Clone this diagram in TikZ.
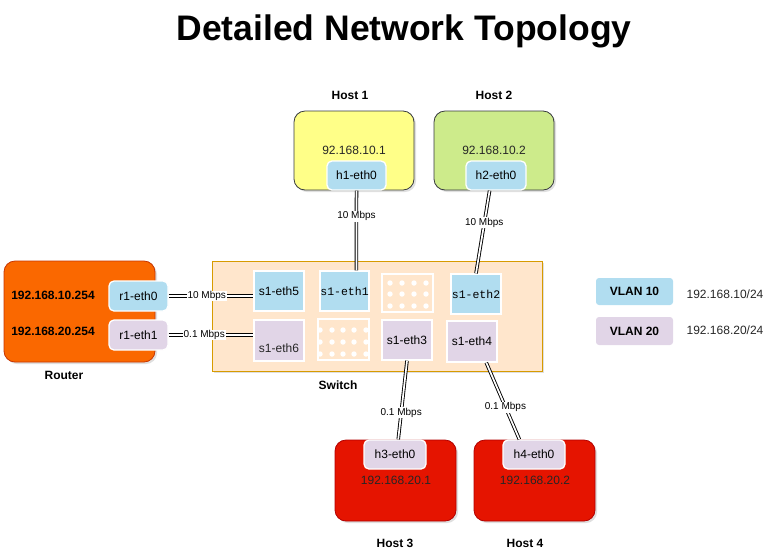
\documentclass[tikz,border=0pt]{standalone}
\usepackage{fontspec}
\setmainfont{Liberation Sans}
\newfontfamily\monofont{Liberation Mono}
\usetikzlibrary{positioning, shadows}
\definecolor{vlanblue}{HTML}{B1DDF0}
\definecolor{vlanpurple}{HTML}{E1D5E7}
\definecolor{routerorange}{HTML}{FA6800}
\definecolor{routerline}{HTML}{C73500}
\definecolor{hostred}{HTML}{E51400}
\definecolor{hostredline}{HTML}{B20000}
\definecolor{hostyellow}{HTML}{FFFF88}
\definecolor{hostgreen}{HTML}{CDEB8B}
\definecolor{hostline}{HTML}{36393D}
\definecolor{switchfill}{HTML}{FFE6CC}
\definecolor{switchline}{HTML}{D79B00}
\tikzset{
  c/.style={every coordinate/.try},
  shade box/.style={drop shadow={opacity=0.25, shadow xshift=2pt, shadow yshift=-2pt}},
  device/.style={draw=hostline, line width=0.8pt, rounded corners=11pt, shade box},
  iface/.style={draw=white, line width=1.3pt, inner sep=0pt, font=\fontsize{12}{14}\selectfont},
  vlan10/.style={iface, fill=vlanblue},
  vlan20/.style={iface, fill=vlanpurple},
  link/.style={draw=black, double, double distance=1.7pt, line width=0.9pt},
  rate/.style={fill=white, inner sep=0.8pt, font=\fontsize{10}{12}\selectfont},
  caption/.style={font=\bfseries\fontsize{12}{14}\selectfont},
  txt/.style={font=\fontsize{12}{14}\selectfont, text=black!85}}

\begin{document}
\begin{tikzpicture}[x=1pt,y=-1pt]
  \useasboundingbox (0,0) rectangle (775,558);
  \node (title) at (404,31) {\bfseries\fontsize{35.5}{40}\selectfont Detailed Network Topology};

  % router
  \node[device, draw=routerline, fill=routerorange, minimum width=151pt, minimum height=101pt] (router) at (79.5,311.5) {};
      \node[caption] (rip1) at (53,295) {192.168.10.254};
      \node[caption] (rip2) at (53,331) {192.168.20.254};
  \node[vlan10, rounded corners=5pt, minimum width=59pt, minimum height=30pt] (r0) at (138.5,296) {r1-eth0};
  \node[vlan20, rounded corners=5pt, minimum width=59pt, minimum height=30pt] (r1) at (138.5,335) {r1-eth1};
         \node[caption] (routerlbl) at (64,375) {Router};

  % switch
  \node[draw=switchline, line width=0.8pt, fill=switchfill, shade box, minimum width=330pt, minimum height=110pt] (switch) at (377,316) {};
       \node[caption] (switchlbl) at (338,385) {Switch};
  \node[vlan10, minimum width=50pt, minimum height=40pt] (s5) at (279,291) {s1-eth5};
  \node[vlan10, minimum width=49pt, minimum height=40pt, font=\monofont\fontsize{11.5}{13}\selectfont] (s1) at (344.5,291) {s1-eth1};
  \node[iface, fill=switchfill, minimum width=51pt, minimum height=38pt] (dots1) at (407.5,293) {};
  \node[vlan10, minimum width=50pt, minimum height=40pt, font=\monofont\fontsize{11.5}{13}\selectfont] (s2) at (476,294) {s1-eth2};
  \node[vlan20, minimum width=50pt, minimum height=41pt] (s6) at (279,340.5) {};
     \node[txt] (s6t) at (279,348) {s1-eth6};
  \node[iface, fill=switchfill, minimum width=51pt, minimum height=41pt] (dots2) at (343.5,339.5) {};
  \node[vlan20, minimum width=50pt, minimum height=40pt] (s3) at (407,340) {s1-eth3};
  \node[vlan20, minimum width=50pt, minimum height=41pt] (s4) at (472,341.5) {s1-eth4};
  \foreach \x in {390,402,414,426}
    \foreach \y in {283,294,306}
      \fill[white] (\x,\y) circle (2.7);
  \begin{scope}
    \clip (dots2.north west) rectangle (dots2.south east);
    \foreach \x in {320,332,343,354,366}
      \foreach \y in {330,342,354}
        \fill[white] (\x,\y) circle (2.7);
  \end{scope}

  % hosts
  \node[device, fill=hostyellow, minimum width=120pt, minimum height=79pt] (host1) at (354,150.5) {};
  \node[device, fill=hostgreen, minimum width=120pt, minimum height=79pt] (host2) at (494,150.5) {};
  \node[device, draw=hostredline, fill=hostred, minimum width=121pt, minimum height=81pt] (host3) at (395.5,480.5) {};
  \node[device, draw=hostredline, fill=hostred, minimum width=121pt, minimum height=81pt] (host4) at (534.5,480.5) {};
     \node[caption] (host1lbl) at (350,95) {Host 1};
     \node[caption] (host2lbl) at (494,95) {Host 2};
     \node[caption] (host3lbl) at (395,543) {Host 3};
     \node[caption] (host4lbl) at (525,543) {Host 4};
  \node[txt] (h1ip) at (354,150) {92.168.10.1};
  \node[txt] (h2ip) at (494,150) {92.168.10.2};
  \node[txt] (h3ip) at (396,480) {192.168.20.1};
  \node[txt] (h4ip) at (535,480) {192.168.20.2};
  \node[vlan10, rounded corners=5pt, minimum width=59pt, minimum height=29pt] (h1) at (356.5,175.5) {h1-eth0};
  \node[vlan10, rounded corners=5pt, minimum width=60pt, minimum height=29pt] (h2) at (496,175.5) {h2-eth0};
  \node[vlan20, rounded corners=5pt, minimum width=62pt, minimum height=29pt] (h3) at (395,454.5) {h3-eth0};
  \node[vlan20, rounded corners=5pt, minimum width=62pt, minimum height=29pt] (h4) at (534,454.5) {h4-eth0};

  % links
  \draw[link] (r0.east) -- node[rate, pos=0.45] {10 Mbps} (r0.east -| s5.west);
  \draw[link] (r1.east) -- node[rate, pos=0.42] {0.1 Mbps} (r1.east -| s6.west);
  \draw[link] (h1.south) -- node[rate, pos=0.32] {10 Mbps} (s1.60);
  \draw[link] (h2.247) -- node[rate, pos=0.39] {10 Mbps} (s2.north);
  \draw[link] (s3.south) -- node[rate, pos=0.66] {0.1 Mbps} (h3.78);
  \draw[link] (s4.304) -- node[rate, pos=0.58] {0.1 Mbps} (h4.134);

  % legend
  \node[vlan10, draw=none, rounded corners=3pt, minimum width=77pt, minimum height=27pt, font=\bfseries\fontsize{12}{14}\selectfont] (vlan10) at (634.5,291.5) {VLAN 10};
  \node[vlan20, draw=none, rounded corners=3pt, minimum width=77pt, minimum height=28pt, font=\bfseries\fontsize{12}{14}\selectfont] (vlan20) at (634.5,331) {VLAN 20};
     \node[txt] (net10) at (725,294) {192.168.10/24};
     \node[txt] (net20) at (725,330) {192.168.20/24};
\end{tikzpicture}
\end{document}
